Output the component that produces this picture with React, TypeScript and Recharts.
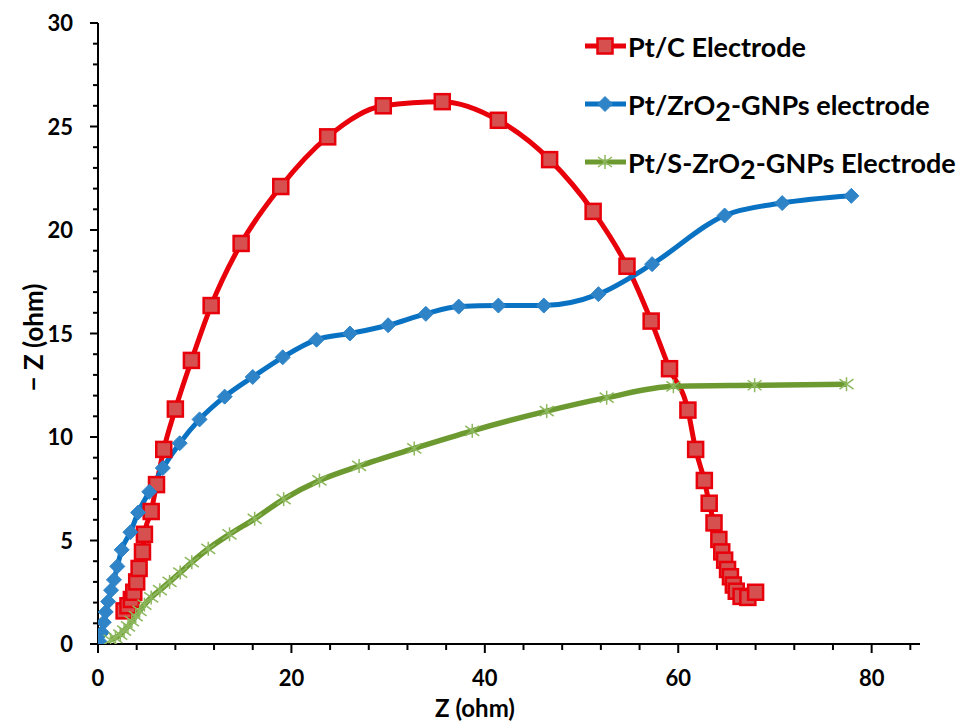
import React from 'react';
import { LineChart, Line, XAxis, YAxis, Legend, Label } from 'recharts';

// ---- Data ----
const ptcX = [2.7, 3.1, 3.45, 3.7, 4.0, 4.25, 4.6, 4.8, 5.5, 6.05, 6.8, 8.0, 9.66, 11.7, 14.8, 18.9, 23.75, 29.5, 35.6, 41.4, 46.7, 51.2, 54.7, 57.2, 59.1, 61.0, 61.8, 62.7, 63.2, 63.7, 64.2, 64.5, 64.8, 65.1, 65.4, 65.7, 66.0, 66.5, 67.2, 68.0];
const ptcY = [1.6, 1.85, 2.15, 2.5, 3.0, 3.65, 4.45, 5.3, 6.4, 7.7, 9.4, 11.35, 13.7, 16.35, 19.35, 22.1, 24.5, 26.0, 26.2, 25.3, 23.4, 20.9, 18.25, 15.6, 13.3, 11.3, 9.4, 7.9, 6.8, 5.85, 5.05, 4.45, 4.05, 3.6, 3.25, 2.85, 2.55, 2.3, 2.25, 2.5];

const zrX = [0.2, 0.4, 0.6, 0.8, 1.05, 1.35, 1.65, 2.0, 2.45, 3.35, 4.15, 5.3, 6.7, 8.45, 10.5, 13.1, 16.0, 19.1, 22.6, 26.05, 30.0, 33.9, 37.3, 41.4, 46.1, 51.75, 57.3, 64.8, 70.75, 77.9];
const zrY = [0.1, 0.55, 1.05, 1.55, 2.05, 2.6, 3.1, 3.75, 4.55, 5.4, 6.35, 7.35, 8.5, 9.7, 10.85, 11.95, 12.9, 13.85, 14.7, 15.0, 15.4, 15.95, 16.3, 16.35, 16.35, 16.9, 18.35, 20.7, 21.3, 21.65];

const szrX = [1.3, 1.8, 2.3, 2.7, 3.1, 3.5, 3.9, 4.3, 4.8, 5.5, 6.4, 7.4, 8.5, 9.7, 11.4, 13.6, 16.2, 19.2, 22.9, 27.0, 32.7, 38.7, 46.4, 52.6, 59.5, 67.9, 77.4];
const szrY = [0.2, 0.3, 0.45, 0.65, 0.85, 1.1, 1.35, 1.6, 1.9, 2.25, 2.6, 3.0, 3.45, 3.95, 4.6, 5.3, 6.05, 7.0, 7.9, 8.6, 9.45, 10.3, 11.25, 11.9, 12.45, 12.5, 12.55];

const seriesNames = ['Pt/C Electrode', 'Pt/ZrO2-GNPs electrode', 'Pt/S-ZrO2-GNPs Electrode'];

const xTicks = [0, 4, 8, 12, 16, 20, 24, 28, 32, 36, 40, 44, 48, 52, 56, 60, 64, 68, 72, 76, 80, 84];
const xLabelTicks = [0, 20, 40, 60, 80];
const yTicks = [0, 1, 2, 3, 4, 5, 6, 7, 8, 9, 10, 11, 12, 13, 14, 15, 16, 17, 18, 19, 20, 21, 22, 23, 24, 25, 26, 27, 28, 29, 30];
const yLabelTicks = [0, 5, 10, 15, 20, 25, 30];

const toPoints = (xs: number[], ys: number[]) => xs.map((x, i) => ({ x, y: ys[i] }));
const ptcData = toPoints(ptcX, ptcY);
const zrData = toPoints(zrX, zrY);
const szrData = toPoints(szrX, szrY);

// ---- Styles ----
const FONT = 'Lato, "Open Sans", sans-serif';
const RED = '#e8000b';
const RED_FILL = '#d65050';
const BLUE = '#0a72c2';
const BLUE_FILL = '#2f84c8';
const GREEN = '#6c9a30';
const GREEN_STAR = '#8db85e';

const SquareShape = ({ cx, cy }: { cx: number; cy: number }) => (
  <rect x={cx - 7.5} y={cy - 7.5} width={15} height={15} fill={RED_FILL} stroke={RED} strokeWidth={2.5} />
);
const DiamondShape = ({ cx, cy }: { cx: number; cy: number }) => (
  <polygon points={`${cx},${cy - 7.5} ${cx + 7.5},${cy} ${cx},${cy + 7.5} ${cx - 7.5},${cy}`} fill={BLUE_FILL} stroke={BLUE_FILL} strokeWidth={1} />
);
const StarShape = ({ cx, cy }: { cx: number; cy: number }) => (
  <g stroke={GREEN_STAR} strokeWidth={1.5}>
    <line x1={cx - 7} y1={cy - 5} x2={cx + 7} y2={cy + 5} />
    <line x1={cx - 7} y1={cy + 5} x2={cx + 7} y2={cy - 5} />
    <line x1={cx} y1={cy - 7} x2={cx} y2={cy + 7} />
  </g>
);

const makeDot = (Shape: any) => (p: any) => {
  const k = `dot-${p.index}`;
  if (p.cx == null || p.cy == null) return <g key={k} />;
  return <g key={k}><Shape cx={p.cx} cy={p.cy} /></g>;
};

const YTick = (props: any) => {
  const { x, y, payload } = props;
  const major = yLabelTicks.includes(payload.value);
  return (
    <g>
      <line x1={x - (major ? 8 : 5)} x2={x} y1={y} y2={y} stroke="#000" strokeWidth={2} />
      {major && (
        <text x={x - 25} y={y} dy={8} textAnchor="end" fill="#000" fontFamily={FONT} fontWeight={700} fontSize={22}>
          {payload.value}
        </text>
      )}
    </g>
  );
};

const XTick = (props: any) => {
  const { x, y, payload } = props;
  const major = xLabelTicks.includes(payload.value);
  return (
    <g>
      <line x1={x} x2={x} y1={y} y2={y + (major ? 9 : 6)} stroke="#000" strokeWidth={2} />
      {major && (
        <text x={x} y={y + 42} textAnchor="middle" fill="#000" fontFamily={FONT} fontWeight={700} fontSize={22}>
          {payload.value}
        </text>
      )}
    </g>
  );
};

const renderName = (name: string) => {
  const parts = name.split('O2');
  if (parts.length === 1) return name;
  return (
    <>
      {parts[0]}O<span style={{ position: 'relative', top: 6 }}>2</span>{parts[1]}
    </>
  );
};

const legendIcons = [
  (cx: number, cy: number) => <SquareShape cx={cx} cy={cy} />,
  (cx: number, cy: number) => <DiamondShape cx={cx} cy={cy} />,
  (cx: number, cy: number) => <StarShape cx={cx} cy={cy} />,
];
const legendColors = [RED, BLUE, GREEN];

const renderLegend = () => (
  <div style={{ fontFamily: FONT, fontWeight: 700, fontSize: 27, color: '#000', lineHeight: 'normal' }}>
    {seriesNames.map((name, i) => (
      <div key={name} style={{ display: 'flex', alignItems: 'center', height: 58, whiteSpace: 'nowrap' }}>
        <svg width={44} height={20} style={{ flex: 'none' }}>
          <line x1={1} x2={42} y1={10} y2={10} stroke={legendColors[i]} strokeWidth={5} />
          {legendIcons[i](21, 10)}
        </svg>
        <span>{renderName(name)}</span>
      </div>
    ))}
  </div>
);

export default function App() {
  return (
    <div style={{ position: 'absolute', left: 0, top: 0, width: 963, height: 722, background: '#fff' }}>
      <LineChart width={963} height={722} margin={{ top: 23, right: 43, left: 38, bottom: 0 }}>
        <XAxis
          type="number"
          dataKey="x"
          domain={[0, 85]}
          ticks={xTicks}
          interval={0}
          tickSize={0}
          tickMargin={0}
          tickLine={false}
          tick={<XTick />}
          axisLine={{ stroke: '#000', strokeWidth: 2 }}
          height={78}
          allowDataOverflow
        >
          <Label
            content={(p: any) => {
              const vb = p.viewBox || { x: 98, y: 644, width: 822 };
              return (
                <text x={vb.x + vb.width / 2 - 34} y={vb.y + 73} textAnchor="middle" fill="#000" fontFamily={FONT} fontWeight={700} fontSize={24}>
                  Z (ohm)
                </text>
              );
            }}
          />
        </XAxis>
        <YAxis
          type="number"
          dataKey="y"
          domain={[0, 30]}
          ticks={yTicks}
          interval={0}
          tickSize={0}
          tickMargin={0}
          tickLine={false}
          tick={<YTick />}
          axisLine={{ stroke: '#000', strokeWidth: 2 }}
          width={60}
          allowDataOverflow
        >
          <Label
            content={(p: any) => {
              const vb = p.viewBox || { x: 38, y: 23, height: 621 };
              const cx = vb.x - 5;
              const cy = vb.y + vb.height / 2 + 4;
              return (
                <text x={cx} y={cy} textAnchor="middle" dominantBaseline="central" transform={`rotate(-90, ${cx}, ${cy})`} fill="#000" fontFamily={FONT} fontWeight={700} fontSize={26}>
                  − Z (ohm)
                </text>
              );
            }}
          />
        </YAxis>
        <Legend
          layout="vertical"
          align="center"
          verticalAlign="middle"
          content={renderLegend}
          wrapperStyle={{ left: 584, top: 17, width: 379 }}
        />
        <Line
          name={seriesNames[0]}
          data={ptcData}
          dataKey="y"
          type="monotone"
          stroke={RED}
          strokeWidth={5}
          dot={makeDot(SquareShape)}
          activeDot={false}
          isAnimationActive={false}
        />
        <Line
          name={seriesNames[1]}
          data={zrData}
          dataKey="y"
          type="monotone"
          stroke={BLUE}
          strokeWidth={5}
          dot={makeDot(DiamondShape)}
          activeDot={false}
          isAnimationActive={false}
        />
        <Line
          name={seriesNames[2]}
          data={szrData}
          dataKey="y"
          type="monotone"
          stroke={GREEN}
          strokeWidth={5.5}
          dot={makeDot(StarShape)}
          activeDot={false}
          isAnimationActive={false}
        />
      </LineChart>
    </div>
  );
}
